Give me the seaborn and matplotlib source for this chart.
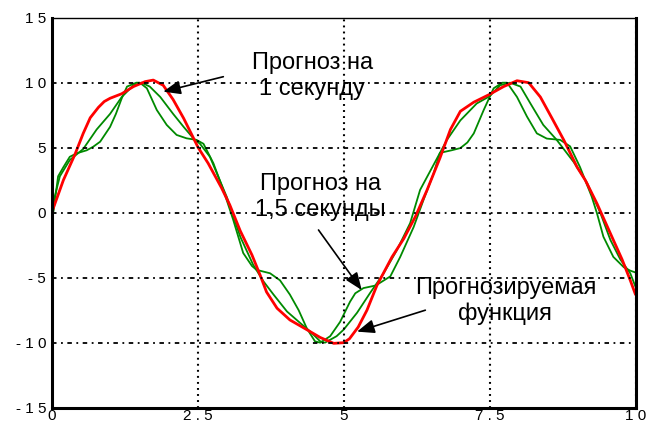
import matplotlib
matplotlib.use("Agg")
import matplotlib.pyplot as plt
import seaborn as sns

# Forecast target (red)
red_t = [0.0, 0.2, 0.4, 0.54, 0.66, 0.8, 0.9, 1.0, 1.2, 1.4, 1.6, 1.74, 1.91, 2.08, 2.26,
         2.51, 2.68, 2.91, 3.05, 3.23, 3.43, 3.57, 3.68, 3.86, 4.08, 4.37, 4.6, 4.83,
         5.0, 5.1, 5.25, 5.4, 5.57, 5.83, 6.03, 6.23, 6.43, 6.65, 6.83, 7.0, 7.23,
         7.5, 7.74, 7.97, 8.17, 8.37, 8.57, 8.77, 9.0, 9.14, 9.34, 9.57, 9.77, 9.91, 10.0]
red_y = [0.0, 2.5, 4.5, 6.1, 7.3, 8.1, 8.55, 8.8, 9.15, 9.7, 10.08, 10.2, 9.8, 8.7, 7.26,
         5.0, 3.8, 1.9, 0.6, -1.4, -3.25, -4.8, -6.1, -7.35, -8.25, -9.0, -9.6, -10.05,
         -10.0, -9.7, -8.8, -7.5, -5.6, -3.4, -2.0, -0.3, 1.75, 4.2, 6.4, 7.8, 8.5,
         9.1, 9.7, 10.15, 10.0, 8.9, 7.26, 5.6, 3.5, 2.5, 0.7, -1.6, -3.6, -5.2, -6.3]

# Forecast 1 s ahead
g1_t = [0.0, 0.05, 0.14, 0.31, 0.54, 0.77, 1.0, 1.2, 1.4, 1.54, 1.68, 1.86, 2.08, 2.26,
        2.43, 2.54, 2.71, 3.0, 3.23, 3.45, 3.63, 3.8, 4.03, 4.26, 4.43, 4.6, 4.68,
        4.88, 5.0, 5.23, 5.45, 5.68, 5.91, 6.14, 6.31, 6.77, 7.0, 7.28, 7.5, 7.68,
        7.85, 8.03, 8.2, 8.42, 8.65, 8.94, 9.17, 9.4, 9.57, 9.74, 9.91, 10.0]
g1_y = [0.0, 1.2, 2.8, 4.05, 4.9, 6.4, 7.6, 8.9, 9.8, 10.0, 9.7, 8.9, 7.6, 6.6,
        5.7, 5.3, 4.3, 1.2, -1.85, -4.0, -5.3, -6.3, -7.6, -8.5, -9.15, -9.9, -10.0,
        -9.5, -9.0, -7.7, -6.2, -4.7, -2.9, -0.8, 1.75, 5.6, 7.1, 8.4, 8.95, 9.8,
        10.0, 9.7, 8.4, 6.75, 5.6, 3.9, 2.3, -0.05, -2.1, -3.6, -4.66, -5.7]

# Forecast 1.5 s ahead
g2_t = [0.0, 0.03, 0.11, 0.2, 0.31, 0.43, 0.6, 0.71, 0.83, 1.0, 1.1, 1.2, 1.29, 1.45,
        1.51, 1.63, 1.8, 1.97, 2.14, 2.31, 2.48, 2.6, 2.77, 2.94, 3.11, 3.28, 3.43,
        3.51, 3.74, 3.91, 4.08, 4.23, 4.37, 4.51, 4.6, 4.77, 4.94, 5.11, 5.2, 5.34,
        5.55, 5.8, 5.97, 6.2, 6.37, 6.54, 6.65, 6.85, 7.0, 7.12, 7.23, 7.4, 7.57,
        7.72, 7.8, 7.97, 8.14, 8.31, 8.48, 8.71, 8.88, 9.05, 9.25, 9.34, 9.45, 9.62,
        9.8, 9.91, 10.0]
g2_y = [0.0, 0.1, 2.8, 3.5, 4.3, 4.57, 4.8, 5.07, 5.46, 6.6, 7.6, 8.8, 9.7, 10.0,
        10.0, 9.57, 7.9, 6.75, 5.98, 5.72, 5.6, 5.3, 3.8, 1.75, -0.56, -3.1, -4.1,
        -4.4, -4.66, -5.2, -6.3, -7.5, -8.9, -9.9, -10.0, -9.5, -8.4, -6.85, -6.2, -5.8,
        -5.6, -4.9, -3.4, -1.1, 1.0, 3.0, 4.6, 4.8, 4.97, 5.4, 6.1, 7.9, 9.57,
        10.0, 10.0, 8.9, 7.4, 6.1, 5.7, 5.6, 5.1, 3.5, 1.23, -0.05, -1.85, -3.4,
        -4.2, -4.46, -4.6]

x_ticks = [0, 2.5, 5, 7.5, 10]
x_labels = ["0", "2 . 5", "5", "7 . 5", "1 0"]
y_ticks = [-15, -10, -5, 0, 5, 10, 15]
y_labels = ["- 1 5", "- 1 0", "- 5", "0", "5", "1 0", "1 5"]

sns.set_style("white")
plt.rcParams['font.family'] = ['Liberation Sans', 'DejaVu Sans']
plt.rcParams['text.color'] = 'black'

fig = plt.figure(figsize=(6.67, 4.23), dpi=100)
ax = fig.add_axes([0.0775, 0.0362, 0.8753, 0.922])

sns.lineplot(x=g2_t, y=g2_y, color="#008a00", lw=1.3, sort=False, estimator=None, ax=ax)
sns.lineplot(x=g1_t, y=g1_y, color="#008a00", lw=1.3, sort=False, estimator=None, ax=ax)
sns.lineplot(x=red_t, y=red_y, color="#ff0000", lw=2.0, sort=False, estimator=None, ax=ax)

ax.set_xlim(0, 10)
ax.set_ylim(-15, 15)
ax.set_xticks(x_ticks)
ax.set_xticklabels(x_labels)
ax.set_yticks(y_ticks)
ax.set_yticklabels(y_labels)
ax.set_xlabel("")
ax.set_ylabel("")
ax.tick_params(direction="in", length=4, width=1, colors="black", labelsize=11)
ax.tick_params(axis="x", pad=1)
ax.tick_params(axis="y", pad=4)

# MATLAB style grid
ax.xaxis.grid(True, color="black", ls=(0, (0.9, 2.0)), lw=1.5)
ax.yaxis.grid(True, color="black", ls=(0, (2.5, 2.5, 1, 2.5)), lw=1.3)
ax.set_axisbelow(False)

for side in ["left", "bottom", "right"]:
    ax.spines[side].set_linewidth(2.2)
ax.spines["top"].set_linewidth(1.0)
for s in ax.spines.values():
    s.set_color("black")

arrow = dict(arrowstyle="-|>,head_length=0.7,head_width=0.28", color="black",
             lw=1.2, mutation_scale=15, shrinkA=0, shrinkB=0)
ax.annotate("", xy=(1.91, 9.31), xytext=(2.94, 10.46), arrowprops=arrow)
ax.annotate("", xy=(5.31, -5.95), xytext=(4.57, -1.33), arrowprops=arrow)
ax.annotate("", xy=(5.23, -9.15), xytext=(6.4, -7.5), arrowprops=arrow)

ax.text(4.46, 10.5, "Прогноз на\n1 секунду", ha="center", va="center",
        fontsize=17, color="black")
ax.text(4.6, 1.2, "Прогноз на\n1,5 секунды", ha="center", va="center",
        fontsize=17, color="black")
ax.text(7.77, -6.8, "Прогнозируемая\nфункция", ha="center", va="center",
        fontsize=17, color="black")

plt.savefig("out.png", dpi=100)
